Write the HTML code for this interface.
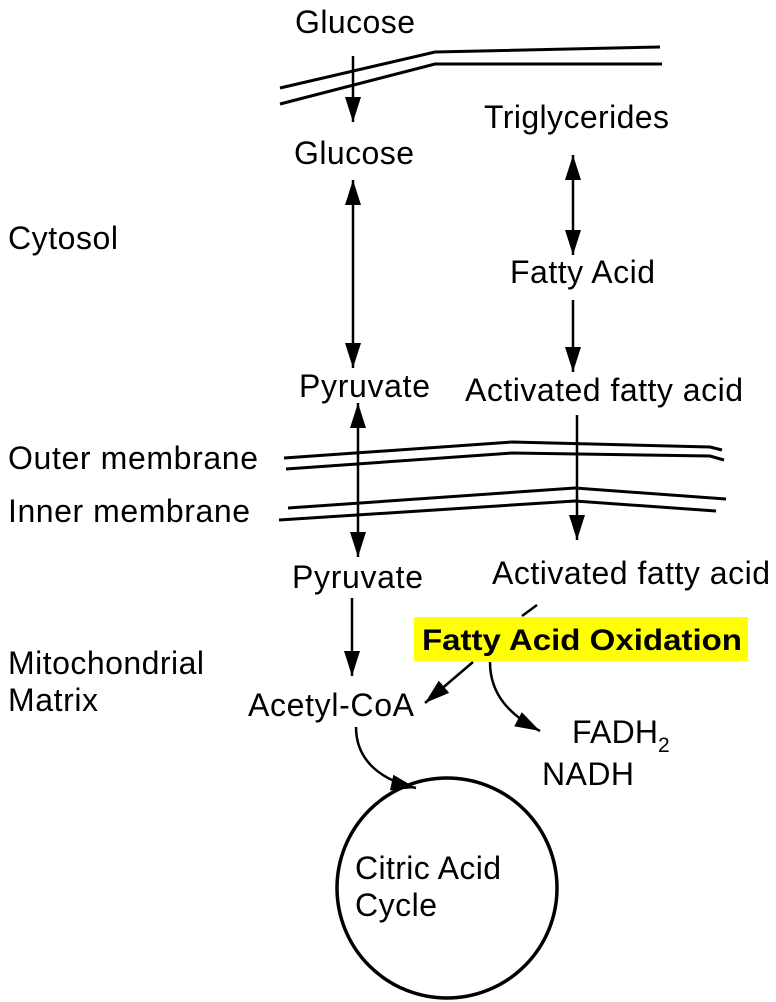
<!DOCTYPE html>
<html><head><meta charset="utf-8"><style>
html,body{margin:0;padding:0;background:#fff}
svg{display:block}
text{font-family:"Liberation Sans",Arial,sans-serif;font-size:32px;fill:#000}
</style></head><body>
<svg width="776" height="1002" viewBox="0 0 776 1002" xmlns="http://www.w3.org/2000/svg">
<defs>
<marker id="b" viewBox="0 0 10 10" refX="10" refY="5" markerWidth="25" markerHeight="25" markerUnits="userSpaceOnUse" orient="auto-start-reverse"><path d="M0,1.8 L10,5 L0,8.2 z" fill="#000"/></marker>
</defs>
<g fill="none" stroke="#000" stroke-width="3">
<polyline points="280,88 435,52 660,47"/>
<polyline points="280,104 435,64 662,64"/>
<polyline points="284,458 512,442 710,447 722,450"/>
<polyline points="286,469 512,453 710,456 724,460"/>
<polyline points="288,508 575,488 726,499"/>
<polyline points="279,520 575,501 716,511"/>
</g>
<g stroke="#000" stroke-width="2.5" fill="none">
<line x1="353" y1="56" x2="353" y2="122" marker-end="url(#b)"/>
<line x1="353" y1="180" x2="353" y2="368" marker-start="url(#b)" marker-end="url(#b)"/>
<line x1="358" y1="403" x2="358" y2="557" marker-start="url(#b)" marker-end="url(#b)"/>
<line x1="352" y1="598" x2="352" y2="676" marker-end="url(#b)"/>
<line x1="573" y1="155" x2="573" y2="255" marker-start="url(#b)" marker-end="url(#b)"/>
<line x1="573" y1="300" x2="573" y2="372" marker-end="url(#b)"/>
<line x1="577" y1="415" x2="577" y2="540" marker-end="url(#b)"/>
<line x1="537" y1="605" x2="522" y2="616"/>
<line x1="473" y1="662" x2="425" y2="703" marker-end="url(#b)"/>
<path d="M490,662 C490,695 510,715 540,731" marker-end="url(#b)"/>
<path d="M356,727 C356,760 380,780 416,788" marker-end="url(#b)"/>
</g>
<rect x="414" y="617" width="334" height="44" fill="#ffff00"/>
<text x="422" y="650" style="font-weight:bold;font-size:30px" textLength="320" lengthAdjust="spacingAndGlyphs">Fatty Acid Oxidation</text>
<circle cx="447" cy="888" r="110" fill="none" stroke="#000" stroke-width="3.5"/>
<text x="295" y="33" textLength="120">Glucose</text>
<text x="294" y="164" textLength="120">Glucose</text>
<text x="484" y="128" textLength="185">Triglycerides</text>
<text x="8" y="249" textLength="110">Cytosol</text>
<text x="510" y="283" textLength="145">Fatty Acid</text>
<text x="299" y="397" textLength="131">Pyruvate</text>
<text x="465" y="401" textLength="278">Activated fatty acid</text>
<text x="8" y="469" textLength="250">Outer membrane</text>
<text x="8" y="522" textLength="242">Inner membrane</text>
<text x="292" y="588" textLength="131">Pyruvate</text>
<text x="492" y="584" textLength="278">Activated fatty acid</text>
<text x="8" y="674" textLength="196">Mitochondrial</text>
<text x="8" y="711" textLength="90">Matrix</text>
<text x="248" y="716" textLength="166">Acetyl-CoA</text>
<text x="572" y="743" textLength="86">FADH</text><text x="658" y="752" style="font-size:21px">2</text>
<text x="542" y="785" textLength="92">NADH</text>
<text x="355" y="879" textLength="146">Citric Acid</text>
<text x="355" y="916" textLength="82">Cycle</text>
</svg>
</body></html>
